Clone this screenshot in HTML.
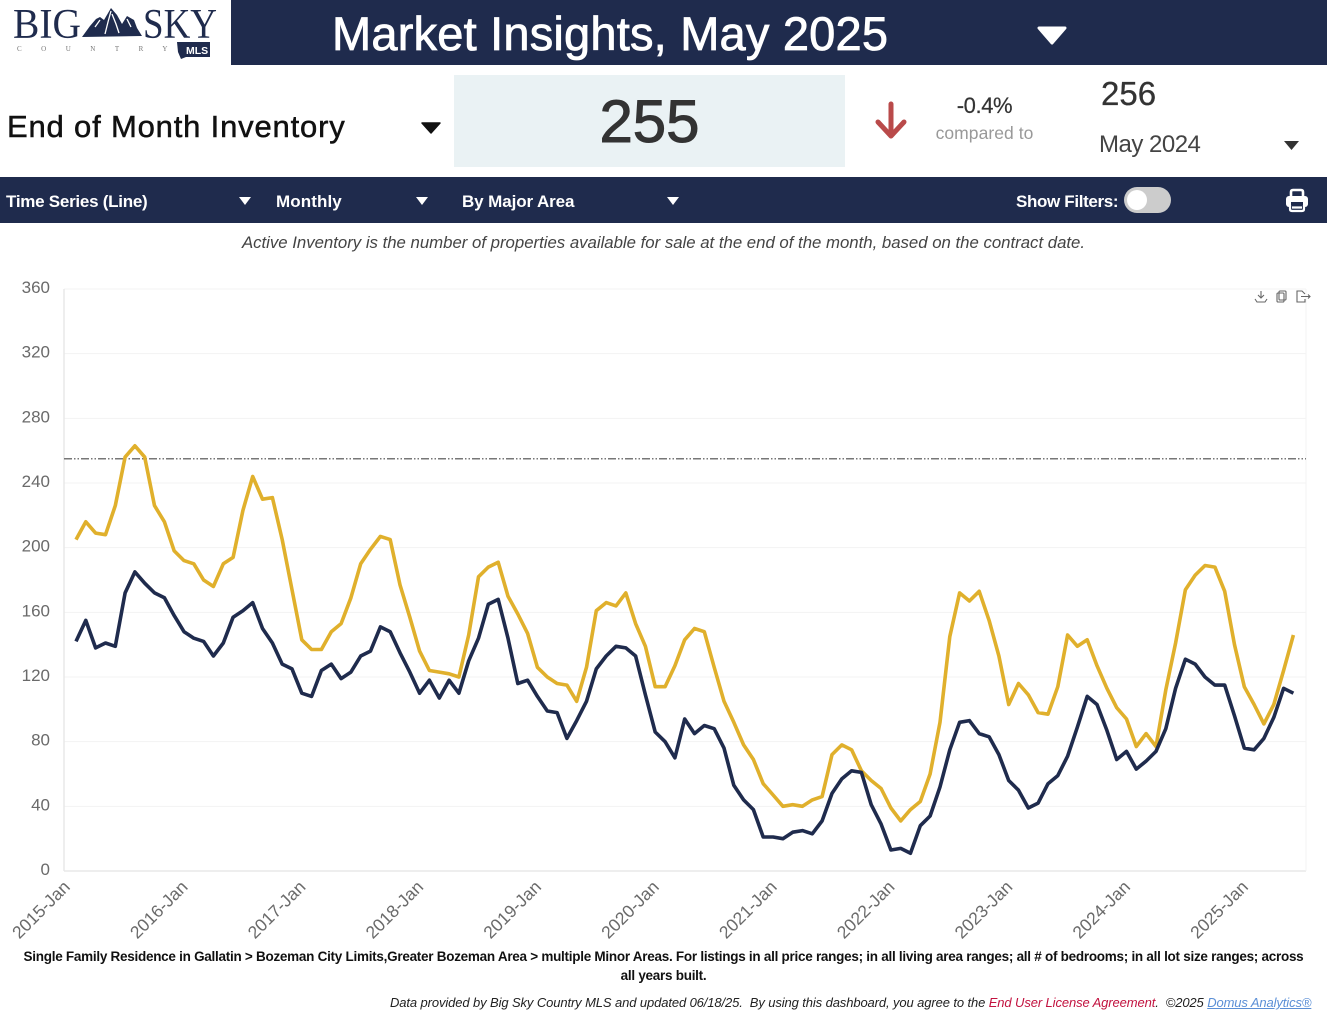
<!DOCTYPE html>
<html lang="en">
<head>
<meta charset="utf-8">
<title>Market Insights, May 2025</title>
<style>
html,body{margin:0;padding:0;background:#fff;}
body{width:1327px;height:1023px;overflow:hidden;position:relative;font-family:"Liberation Sans",sans-serif;}
.abs{position:absolute;white-space:nowrap;line-height:1;}
.bar{position:absolute;background:#1f2b4d;}
.tb{color:#fff;font-weight:700;font-size:17px;}
svg{position:absolute;display:block;overflow:visible;}
</style>
</head>
<body>

<svg style="left:0;top:0" width="231" height="65" viewBox="0 0 231 65">
  <text x="13" y="38" font-family="'Liberation Serif',serif" font-size="42" fill="#1f2b4d" textLength="68" lengthAdjust="spacingAndGlyphs">BIG</text>
  <polygon points="82,37 90,26 96,19 100,17 104,20 111,8 117,15 122,24 127,16 134,20 137,28 142,36" fill="#1f2b4d"/>
  <path d="M111,11 L108,22 L105,34 M112,14 L116,24 L119,33 M100,20 L95,27 M127,19 L131,27" fill="none" stroke="#fff" stroke-width="1.300"/>
  <text x="143" y="38" font-family="'Liberation Serif',serif" font-size="42" fill="#1f2b4d" textLength="74" lengthAdjust="spacingAndGlyphs">SKY</text>
  <text x="17" y="51" font-family="'Liberation Serif',serif" font-size="7" fill="#777" letter-spacing="19.5">COUNTRY</text>
  <path d="M177,42 H210 V57 H186 L181,59 L178,52 Z" fill="#1f2b4d"/>
  <text x="186" y="54" font-family="'Liberation Sans',sans-serif" font-weight="700" font-size="10.500" fill="#fff">MLS</text>
</svg>

<div class="bar" style="left:231px;top:0;width:1096px;height:65px"></div>
<div class="abs" style="left:332px;top:10px;font-size:47px;letter-spacing:.2px;color:#fff;-webkit-text-stroke:.8px #fff">Market Insights, May 2025</div>
<svg style="left:1036px;top:25px" width="32" height="21"><path d="M3 3 H29 L16 18 Z" fill="#fff" stroke="#fff" stroke-width="3" stroke-linejoin="round"/></svg>

<div class="abs" style="left:7px;top:111px;font-size:31px;letter-spacing:.82px;color:#111;-webkit-text-stroke:.5px #111">End of Month Inventory</div>
<svg style="left:420px;top:121px" width="22" height="14"><path d="M2 2 H20 L11 12 Z" fill="#111" stroke="#111" stroke-width="1.5" stroke-linejoin="round"/></svg>

<div class="abs" style="left:454px;top:75px;width:391px;height:92px;background:#eaf2f4"></div>
<div class="abs" style="left:454px;top:92px;width:391px;text-align:center;font-size:60px;color:#333;-webkit-text-stroke:1px #333">255</div>

<svg style="left:873px;top:100px" width="36" height="42"><path d="M18 4 V35 M5 22 L18 36 L31 22" fill="none" stroke="#b94a4a" stroke-width="5" stroke-linecap="round" stroke-linejoin="round"/></svg>
<div class="abs" style="left:934px;top:95px;width:101px;text-align:center;font-size:22px;color:#333;letter-spacing:-.4px;-webkit-text-stroke:.2px #333">-0.4%</div>
<div class="abs" style="left:925px;top:125px;width:119px;text-align:center;font-size:17.500px;color:#999;letter-spacing:.05px">compared to</div>
<div class="abs" style="left:1101px;top:77px;font-size:33px;color:#333;-webkit-text-stroke:.3px #333">256</div>
<div class="abs" style="left:1099px;top:133px;font-size:24px;color:#444;letter-spacing:-.5px">May 2024</div>
<svg style="left:1283px;top:140px" width="17" height="11"><path d="M1 1 H16 L8.500 10 Z" fill="#333"/></svg>

<div class="bar" style="left:0;top:177px;width:1327px;height:46px"></div>
<div class="abs tb" style="left:6px;top:193px;letter-spacing:-.26px">Time Series (Line)</div>
<svg style="left:238px;top:196px" width="14" height="10"><path d="M1 1 H13 L7 9 Z" fill="#fff"/></svg>
<div class="abs tb" style="left:276px;top:193px;letter-spacing:.1px">Monthly</div>
<svg style="left:415px;top:196px" width="14" height="10"><path d="M1 1 H13 L7 9 Z" fill="#fff"/></svg>
<div class="abs tb" style="left:462px;top:193px;letter-spacing:-.1px">By Major Area</div>
<svg style="left:666px;top:196px" width="14" height="10"><path d="M1 1 H13 L7 9 Z" fill="#fff"/></svg>
<div class="abs tb" style="left:1016px;top:193px;letter-spacing:-.35px">Show Filters:</div>
<div class="abs" style="left:1124px;top:187px;width:47px;height:26px;border-radius:13px;background:#ccc"></div>
<div class="abs" style="left:1127px;top:190px;width:20px;height:20px;border-radius:10px;background:#fff"></div>
<svg style="left:1285px;top:188px" width="24" height="24" viewBox="0 0 24 24">
  <path d="M6 9 V4 Q6 2 8 2 H16 Q18 2 18 4 V9" fill="none" stroke="#fff" stroke-width="2.600"/>
  <rect x="1" y="8" width="22" height="11" rx="3" fill="#fff"/>
  <rect x="6" y="14" width="12" height="8" fill="#1f2b4d"/>
  <rect x="7.500" y="15.500" width="9" height="6" fill="#1f2b4d"/>
  <path d="M5 17 V21 Q5 23 7 23 H17 Q19 23 19 21 V17 M7 19.500 H17" fill="none" stroke="#fff" stroke-width="2.200"/>
</svg>

<div class="abs" style="left:0;top:235px;width:1327px;text-align:center;font-size:16.800px;font-style:italic;color:#444;letter-spacing:-.01px">Active Inventory is the number of properties available for sale at the end of the month, based on the contract date.</div>

<svg id="chart" style="left:0;top:0" width="1327" height="1023" viewBox="0 0 1327 1023"></svg>

<svg style="left:1254px;top:290px" width="58" height="15" viewBox="0 0 58 15" fill="none" stroke="#666" stroke-width="1.100">
  <g><path d="M7 1 V8 M4 5 L7 8 L10 5 M1 9 L3 12 H11 L13 9"/></g>
  <g><rect x="25" y="1" width="7" height="9" rx="1"/><rect x="23" y="3" width="7" height="9" rx="1"/></g>
  <g><path d="M51 4 L48 1 H43 V12 H51 V9 M47 6.500 H56 M54 4.500 L56 6.500 L54 8.500"/></g>
</svg>

<div class="abs" style="left:0;top:947px;width:1327px;text-align:center;font-size:13.500px;font-weight:700;color:#111;line-height:19px;letter-spacing:-.27px">Single Family Residence in Gallatin &gt; Bozeman City Limits,Greater Bozeman Area &gt; multiple Minor Areas. For listings in all price ranges; in all living area ranges; all # of bedrooms; in all lot size ranges; across<br>all years built.</div>
<div class="abs" style="left:390px;top:996px;font-size:13px;font-style:italic;color:#222;letter-spacing:-.11px">Data provided by Big Sky Country MLS and updated 06/18/25.&nbsp; By using this dashboard, you agree to the <span style="color:#c2123f">End User License Agreement</span>.&nbsp; ©2025 <span style="color:#5b8fd6;text-decoration:underline">Domus Analytics®</span></div>

<script>
var tickYears = ['2015-Jan','2016-Jan','2017-Jan','2018-Jan','2019-Jan','2020-Jan','2021-Jan','2022-Jan','2023-Jan','2024-Jan','2025-Jan'];
var yTicks = [0,40,80,120,160,200,240,280,320,360];
var monthsPerTick = 12;
var referenceValue = 255;
var goldSeries = [
  205,216,209,208,226,256,263,256,226,216,198,192,
  190,180,176,190,194,223,244,230,231,205,174,143,
  137,137,148,153,169,190,199,207,205,177,157,136,
  124,123,122,120,146,182,188,191,170,159,147,126,
  120,116,115,105,126,161,166,164,172,153,139,114,
  114,127,143,150,148,126,105,92,78,69,54,47,
  40,41,40,44,46,72,78,75,62,56,51,39,
  31,38,43,60,92,145,172,167,173,155,133,103,
  116,109,98,97,114,146,139,143,127,113,101,94,
  77,85,77,112,141,174,183,189,188,173,140,114,
  103,91,103,124,146
];
var navySeries = [
  142,155,138,141,139,172,185,178,172,169,158,148,
  144,142,133,141,157,161,166,150,141,128,125,110,
  108,124,128,119,123,133,136,151,148,135,123,110,
  118,107,118,110,130,144,165,168,144,116,118,108,
  99,98,82,93,105,125,133,139,138,133,109,86,
  80,70,94,85,90,88,76,53,44,38,21,21,
  20,24,25,23,31,48,57,62,61,41,29,13,
  14,11,28,34,52,75,92,93,85,83,72,56,
  50,39,42,54,59,71,89,108,103,87,69,74,
  63,68,74,88,113,131,128,120,115,115,96,76,
  75,82,95,113,110
];

var NS = 'http://www.w3.org/2000/svg';
var chart = document.getElementById('chart');
var plotL = 64, plotR = 1306, plotT = 289, plotB = 871;
var firstX = 76, lastX = 1293.4;
function xScale(i){ return firstX + i * (lastX - firstX) / (goldSeries.length - 1); }
function yScale(v){ return plotB - v * (plotB - plotT) / 360; }
function mk(tag, attrs, parent){
  var el = document.createElementNS(NS, tag);
  for (var k in attrs) el.setAttribute(k, attrs[k]);
  (parent || chart).appendChild(el);
  return el;
}
function pathFor(series){
  return series.map(function(v,i){ return (i ? 'L' : 'M') + xScale(i).toFixed(1) + ' ' + yScale(v).toFixed(1); }).join(' ');
}

yTicks.forEach(function(t){
  var y = yScale(t);
  var grid = mk('line', {x1:plotL, x2:plotR, y1:y, y2:y, stroke: t === 0 ? '#e8e8e8' : '#f3f3f3', 'stroke-width': t === 0 ? 1.5 : 1});
  
  
  var lab = mk('text', {x:50, y:y + 4, 'text-anchor':'end', 'font-family':"'Liberation Sans',sans-serif", 'font-size':17, fill:'#6a6a6a'});
  lab.textContent = t;
  
  
});

var leftAxis = mk('line', {x1:plotL, x2:plotL, y1:plotT, y2:plotB, stroke:'#e8e8e8', 'stroke-width':1.5});


var rightEdge = mk('line', {x1:plotR, x2:plotR, y1:plotT, y2:plotB, stroke:'#f3f3f3', 'stroke-width':1});



tickYears.forEach(function(label, k){
  var x = xScale(k * monthsPerTick) - 5;
  var y = 888;
  var t = mk('text', {x:x, y:y, 'text-anchor':'end', 'font-family':"'Liberation Sans',sans-serif", 'font-size':17.5, fill:'#6a6a6a', transform:'rotate(-45 ' + x + ' ' + y + ')'});
  t.textContent = label;
  
  
});

var refY = yScale(referenceValue);
var refLine = mk('line', {x1:plotL, x2:plotR, y1:refY, y2:refY, stroke:'#777', 'stroke-width':1.6, 'stroke-dasharray':'8 2 1.5 2 1.5 2'});



var goldLine = mk('path', {d:pathFor(goldSeries), fill:'none', stroke:'#e0b02c', 'stroke-width':3.6, 'stroke-linejoin':'round'});


var navyLine = mk('path', {d:pathFor(navySeries), fill:'none', stroke:'#1f2b4d', 'stroke-width':3.6, 'stroke-linejoin':'round'});


</script>
</body>
</html>
